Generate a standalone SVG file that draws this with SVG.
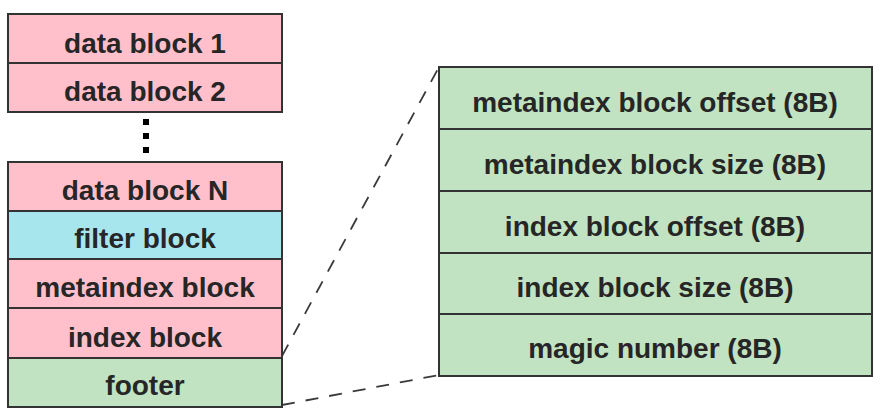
<svg xmlns="http://www.w3.org/2000/svg" width="882" height="418" viewBox="0 0 882 418">
<style>
.box{stroke:#333;stroke-width:2}
.pink{fill:#FFC0CB}
.blue{fill:#A8E6EE}
.green{fill:#C1E3C1}
.t{font-family:"Liberation Sans",Arial,sans-serif;font-weight:bold;font-size:28px;fill:#262626;text-anchor:middle}
.conn{stroke:#3a3a3a;stroke-width:1.8;stroke-dasharray:13 11;fill:none}
</style>
<rect width="882" height="418" fill="#fff"/>
<g id="connectors">
<line class="conn" x1="282" y1="356" x2="439" y2="67"/>
<line class="conn" x1="282" y1="405" x2="439" y2="375"/>
<line x1="146" y1="119" x2="146" y2="162" stroke="#000" stroke-width="6" stroke-dasharray="6 8"/>
</g>
<g id="data-block-1"><rect class="box pink" x="8" y="14" width="274" height="49"/><text class="t" x="145" y="53">data block 1</text></g>
<g id="data-block-2"><rect class="box pink" x="8" y="63" width="274" height="49"/><text class="t" x="145" y="101">data block 2</text></g>
<g id="data-block-n"><rect class="box pink" x="8" y="162" width="274" height="49"/><text class="t" x="145" y="200">data block N</text></g>
<g id="filter-block"><rect class="box blue" x="8" y="211" width="274" height="48"/><text class="t" x="145" y="248">filter block</text></g>
<g id="metaindex-block"><rect class="box pink" x="8" y="259" width="274" height="49"/><text class="t" x="145" y="297">metaindex block</text></g>
<g id="index-block"><rect class="box pink" x="8" y="308" width="274" height="50"/><text class="t" x="145" y="347">index block</text></g>
<g id="footer"><rect class="box green" x="8" y="358" width="274" height="49"/><text class="t" x="145" y="395">footer</text></g>
<g id="metaindex-block-offset"><rect class="box green" x="439" y="67" width="433" height="62"/><text class="t" x="655" y="112">metaindex block offset (8B)</text></g>
<g id="metaindex-block-size"><rect class="box green" x="439" y="129" width="433" height="62"/><text class="t" x="655" y="174">metaindex block size (8B)</text></g>
<g id="index-block-offset"><rect class="box green" x="439" y="191" width="433" height="62"/><text class="t" x="655" y="236">index block offset (8B)</text></g>
<g id="index-block-size"><rect class="box green" x="439" y="253" width="433" height="61"/><text class="t" x="655" y="297">index block size (8B)</text></g>
<g id="magic-number"><rect class="box green" x="439" y="314" width="433" height="62"/><text class="t" x="655" y="358">magic number (8B)</text></g>
</svg>
